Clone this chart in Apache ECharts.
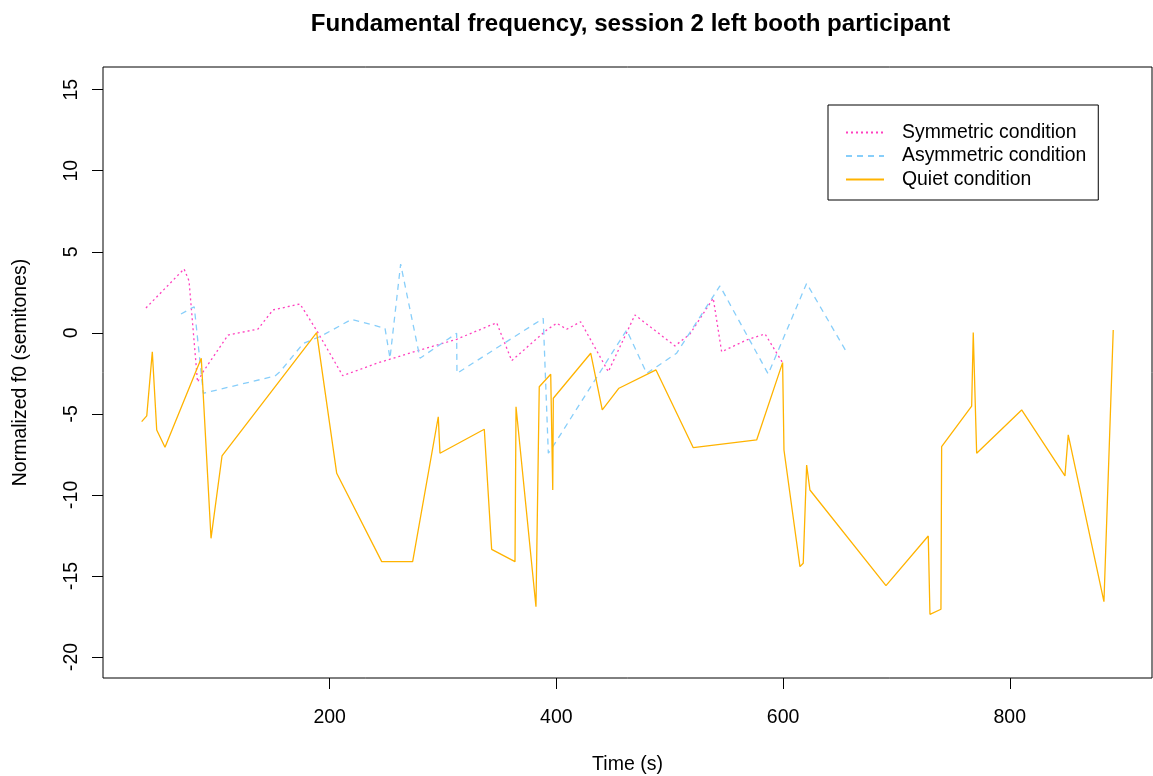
<!DOCTYPE html>
<html>
<head>
<meta charset="utf-8">
<script src="https://cdn.jsdelivr.net/npm/echarts@6/dist/echarts.min.js"></script>
<style>html,body{margin:0;padding:0;background:#fff}#c{width:1153px;height:776px}</style>
</head>
<body>
<div id="c"></div>
<script>
const titleText = 'Fundamental frequency, session 2 left booth participant';
const seriesNames = ['Symmetric condition', 'Asymmetric condition', 'Quiet condition'];
const xTicks = [200, 400, 600, 800];
const yTicks = [-20, -15, -10, -5, 0, 5, 10, 15];

const symX = [37.9, 71.5, 75.9, 83.4, 88.2, 110.3, 136.7, 150.0, 173.8, 188.8, 211.5, 241.5, 279.7, 312.0, 347.3, 360.6, 391.4, 400.3, 409.1, 421.4, 445.8, 469.3, 504.6, 517.9, 538.4, 545.8, 567.9, 584.1, 600.2];
const symY = [1.53, 3.94, 3.20, -3.04, -2.42, -0.14, 0.23, 1.41, 1.78, 0.11, -2.65, -1.88, -1.06, -0.40, 0.62, -1.72, 0.17, 0.59, 0.22, 0.68, -2.40, 1.10, -0.81, -0.07, 2.13, -1.17, -0.44, -0.07, -1.92];

const asymX = [68.8, 80.5, 88.5, 151.7, 156.2, 176.7, 191.4, 219.4, 248.8, 253.2, 262.6, 279.7, 312.0, 312.3, 388.4, 392.9, 395.9, 462.0, 479.7, 488.5, 506.1, 544.3, 586.9, 620.8, 656.6];
const asymY = [1.16, 1.61, -3.73, -2.67, -2.40, -0.65, -0.24, 0.83, 0.28, -1.57, 4.24, -1.57, -0.03, -2.50, 0.89, -7.43, -7.13, 0.17, -2.50, -2.09, -1.26, 2.89, -2.54, 3.05, -1.26];

const quietX = [34.1, 38.6, 43.5, 47.4, 54.7, 86.7, 95.3, 105.0, 188.5, 206.2, 245.9, 273.2, 295.8, 297.3, 336.4, 342.9, 363.5, 364.4, 382.0, 384.9, 395.0, 396.8, 397.3, 430.3, 440.5, 455.2, 487.9, 520.8, 576.7, 599.6, 600.8, 614.9, 617.8, 620.8, 623.7, 690.8, 728.1, 729.6, 739.3, 739.9, 766.4, 767.8, 770.8, 810.5, 848.7, 851.6, 883.1, 891.3];
const quietY = [-5.48, -5.13, -1.17, -6.00, -7.06, -1.57, -12.68, -7.60, 0.01, -8.67, -14.12, -14.12, -5.18, -7.43, -5.95, -13.36, -14.12, -4.56, -16.90, -3.33, -2.56, -9.70, -4.04, -1.26, -4.76, -3.42, -2.29, -7.09, -6.61, -1.84, -7.23, -14.43, -14.22, -8.16, -9.70, -15.60, -12.54, -17.37, -17.06, -7.03, -4.52, 0.01, -7.43, -4.76, -8.83, -6.30, -16.59, 0.17];

const pair = (xs, ys) => xs.map((x, i) => [x, ys[i]]);
const FONT = 'Liberation Sans, Arial, sans-serif';
const colors = ['#FF40BF', '#87CEFA', '#FFB300'];
const dashes = [[2, 3], [6, 5], 'solid'];

const chart = echarts.init(document.getElementById('c'), null, {renderer: 'canvas'});
chart.setOption({
  backgroundColor: '#fff',
  animation: false,
  title: {
    text: titleText,
    left: 625.5, top: 7, textAlign: 'center',
    textStyle: {fontFamily: FONT, fontSize: 24.1, fontWeight: 'bold', color: '#000'}
  },
  legend: {
    orient: 'vertical',
    left: 828, top: 105,
    backgroundColor: '#fff',
    borderColor: '#000', borderWidth: 1, borderRadius: 0,
    padding: [18, 12, 11, 17],
    itemWidth: 38, itemHeight: 14, itemGap: 4.5,
    itemStyle: {opacity: 0},
    textStyle: {fontFamily: FONT, fontSize: 19.4, color: '#000', padding: [0, 0, 0, 13]},
    data: seriesNames
  },
  grid: {
    left: 103, right: 1, top: 67, bottom: 98,
    outerBoundsMode: 'none', containLabel: false,
    show: true, borderColor: '#000', borderWidth: 1, backgroundColor: 'transparent'
  },
  xAxis: {
    type: 'value', min: 0, max: 925.5,
    name: 'Time (s)', nameLocation: 'middle', nameGap: 77,
    nameTextStyle: {fontFamily: FONT, fontSize: 19.5, color: '#000'},
    axisLine: {show: false, onZero: false},
    splitLine: {show: false},
    axisTick: {show: true, length: 11, inside: false, lineStyle: {color: '#000'}, customValues: xTicks},
    axisLabel: {fontFamily: FONT, fontSize: 19.5, color: '#000', margin: 30, customValues: xTicks}
  },
  yAxis: {
    type: 'value', min: -21.3, max: 16.4,
    name: 'Normalized f0 (semitones)', nameLocation: 'middle', nameGap: 72,
    nameTextStyle: {fontFamily: FONT, fontSize: 19.5, color: '#000'},
    axisLine: {show: false, onZero: false},
    splitLine: {show: false},
    axisTick: {show: true, length: 11, inside: false, lineStyle: {color: '#000'}, customValues: yTicks},
    axisLabel: {fontFamily: FONT, fontSize: 19.5, color: '#000', margin: 21, rotate: 90, customValues: yTicks}
  },
  series: seriesNames.map((n, i) => ({
    name: n, type: 'line', symbol: 'none',
    data: pair([symX, asymX, quietX][i], [symY, asymY, quietY][i]),
    lineStyle: {color: colors[i], width: 1.3, type: dashes[i]},
    itemStyle: {color: colors[i]}
  }))
});
</script>
</body>
</html>
